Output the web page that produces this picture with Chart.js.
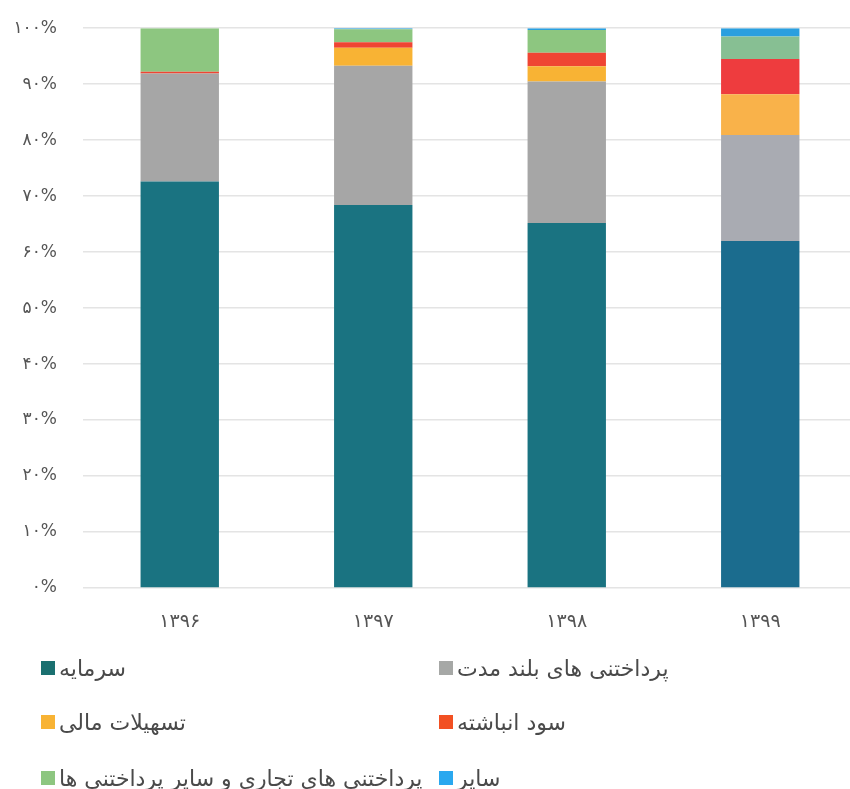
<!DOCTYPE html>
<html><head><meta charset="utf-8">
<script src="https://cdn.jsdelivr.net/npm/chart.js@4/dist/chart.umd.min.js"></script>
<style>
html,body{margin:0;padding:0;background:#fff;overflow:hidden;width:850px;height:789px;}
#wrap{position:absolute;left:0;top:-8px;width:860px;height:648px;}
#legend{position:absolute;left:0;top:0;width:850px;height:789px;pointer-events:none;font-family:"DejaVu Sans",sans-serif;}
.item{position:absolute;display:flex;align-items:center;height:28px;}
.box{width:14px;height:14px;margin-right:4px;flex:none;}
.lbl{direction:rtl;font-size:22px;color:#4a4a4a;white-space:nowrap;}
</style></head>
<body>
<div id="wrap"><canvas id="c" width="860" height="648"></canvas></div>
<div id="legend"></div>
<script>
const categories = ['۱۳۹۶','۱۳۹۷','۱۳۹۸','۱۳۹۹'];
const seriesNames = ['سرمایه','پرداختنی های بلند مدت','تسهیلات مالی','سود انباشته','پرداختنی های تجاری و سایر پرداختنی ها','سایر'];
const capital      = [72.6, 68.4, 65.2, 62.0];
const longTermPay  = [19.3, 24.9, 25.3, 18.9];
const finFacility  = [0.0, 3.2, 2.7, 7.3];
const retained     = [0.3, 1.0, 2.4, 6.3];
const tradePay     = [7.8, 2.3, 4.1, 4.0];
const other        = [0.0, 0.2, 0.3, 1.5];
const yTickLabels  = ['۰%','۱۰%','۲۰%','۳۰%','۴۰%','۵۰%','۶۰%','۷۰%','۸۰%','۹۰%','۱۰۰%'];

const colors = [
  ['#1a7381','#1a7381','#1a7381','#1b6c8e'],
  ['#a6a6a6','#a6a6a6','#a6a6a6','#a9abb2'],
  ['#f8b334','#f8b334','#f8b334','#f9b24a'],
  ['#ef4533','#ef4533','#ef4533','#ee3c3e'],
  ['#8dc680','#8dc680','#8dc680','#87bf93'],
  ['#2a9fdf','#2a9fdf','#2a9fdf','#2a9fdf']
];
const legendColors = ['#1a7070','#a6a8a6','#f8b334','#f25022','#8dc680','#2aa8ef'];
const values = [capital, longTermPay, finFacility, retained, tradePay, other];

const datasets = values.map((v,i)=>({
  label: seriesNames[i], data: v, backgroundColor: colors[i],
  borderWidth: 0, barPercentage: 0.405, categoryPercentage: 1.0
}));

const chart = new Chart(document.getElementById('c'), {
  type: 'bar',
  data: { labels: categories, datasets },
  options: {
    responsive: false, animation: false,
    layout: { padding: { top: 9, right: 3, left: 0, bottom: 0 } },
    plugins: { legend: { display: false }, tooltip: { enabled: false } },
    scales: {
      x: {
        stacked: true,
        grid: { display: false, drawTicks: false },
        border: { display: false },
        ticks: { color: '#555', font: { family: 'DejaVu Sans', size: 19 }, padding: 23 },
        afterFit: s => { s.height = 52; }
      },
      y: {
        stacked: true, min: 0, max: 100,
        grid: { color: '#e4e4e4', lineWidth: 1.5, drawTicks: false },
        border: { display: false },
        ticks: { stepSize: 10, color: '#555', font: { family: 'DejaVu Sans', size: 17 }, padding: 26,
          callback: (v) => yTickLabels[Math.round(v/10)] },
        afterFit: s => { s.width = 83; }
      }
    }
  }
});

const leg = document.getElementById('legend');
const pos = [[41,654],[439,654],[41,708],[439,708],[41,764],[439,764]];
seriesNames.forEach((n,i)=>{
  const d = document.createElement('div'); d.className='item';
  d.style.left = pos[i][0]+'px'; d.style.top = pos[i][1]+'px';
  const b = document.createElement('span'); b.className='box'; b.style.background = legendColors[i];
  const t = document.createElement('span'); t.className='lbl'; t.textContent = n;
  d.appendChild(b); d.appendChild(t); leg.appendChild(d);
});
</script>
</body></html>
